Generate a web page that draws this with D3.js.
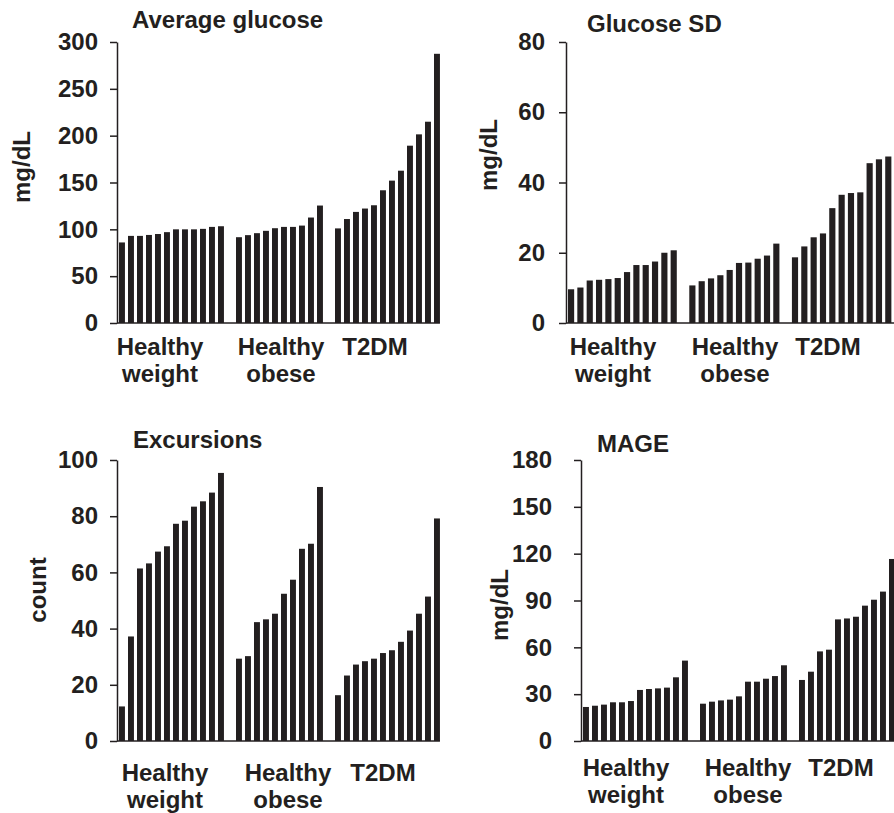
<!DOCTYPE html>
<html>
<head>
<meta charset="utf-8">
<script src="https://cdn.jsdelivr.net/npm/d3@7"></script>
<style>
  body { margin: 0; background: #fff; }
  text { font-family: "Liberation Sans", Arial, sans-serif; font-weight: bold; fill: #231f20; }
</style>
</head>
<body>
<div id="chart"></div>
<script>
const width = 894, height = 813;
const ink = "#231f20";

// group names (two lines each)
const groupLines = [["Healthy", "weight"], ["Healthy", "obese"], ["T2DM"]];

// values per group: healthy weight, healthy obese, T2DM
const avgGlucose = [
    [86, 93, 93, 94, 95, 97, 100, 100, 100, 100.5, 102.6, 103.3],
    [91.6, 93.8, 95.9, 98.4, 101.2, 102.6, 102.6, 104, 112.6, 125.4],
    [101, 111, 118.6, 122.2, 125.7, 141.7, 152, 162.6, 189.3, 201.4, 214.9, 287.4]
];
const glucoseSD = [
    [9.6, 10.1, 12.1, 12.3, 12.5, 12.8, 14.5, 16.5, 16.5, 17.5, 20, 20.7],
    [10.7, 11.9, 12.7, 13.6, 15.1, 17.1, 17.2, 18.3, 19.2, 22.6],
    [18.7, 21.8, 24.4, 25.5, 32.7, 36.5, 37, 37.2, 45.5, 46.6, 47.4]
];
const excursions = [
    [12.3, 37.2, 61.4, 63.2, 67.4, 69.3, 77.3, 78.4, 83.4, 85.3, 88.4, 95.4],
    [29.3, 30.2, 42.3, 43.3, 45.3, 52.4, 57.4, 68.4, 70.2, 90.4],
    [16.3, 23.3, 27.2, 28.4, 29.3, 31.3, 32.3, 35.3, 39.3, 45.3, 51.4, 79.2]
];
const mage = [
    [21.8, 22.6, 23.3, 24.8, 24.8, 25.6, 32.7, 33.3, 33.7, 34.2, 40.8, 51.5],
    [23.9, 25.2, 26, 26.5, 28.6, 38, 38, 39.9, 41.6, 48.5],
    [39.1, 44.4, 57.4, 58.5, 77.9, 78.5, 79.6, 86.7, 90.5, 95.7, 116.6]
];

const glucoseTicks = [0, 50, 100, 150, 200, 250, 300];
const sdTicks = [0, 20, 40, 60, 80];
const excursionTicks = [0, 20, 40, 60, 80, 100];
const mageTicks = [0, 30, 60, 90, 120, 150, 180];

// first slot of each group (one empty slot between groups)
const groupStart = [0, 13, 24];
const slots = 36;

const panels = [
    {title: "Average glucose", yLabel: "mg/dL", data: avgGlucose, ticks: glucoseTicks,
     ax: 117, top: 42, bottom: 323, pitch: 9, pad: 12, titleX: 132, titleY: 28,
     yLabX: 22, yLabY: 167, labelX: [160, 281, 375], labelY: [355, 382], clipRight: false},
    {title: "Glucose SD", yLabel: "mg/dL", data: glucoseSD, ticks: sdTicks,
     ax: 566, top: 42, bottom: 323, pitch: 9.33, pad: 14, titleX: 587, titleY: 32,
     yLabX: 489, yLabY: 155, labelX: [613, 735, 828], labelY: [355, 382], clipRight: true},
    {title: "Excursions", yLabel: "count", data: excursions, ticks: excursionTicks,
     ax: 117, top: 460, bottom: 741, pitch: 9, pad: 12, titleX: 133, titleY: 448,
     yLabX: 38, yLabY: 590, labelX: [165, 288, 383], labelY: [781, 808], clipRight: false},
    {title: "MAGE", yLabel: "mg/dL", data: mage, ticks: mageTicks,
     ax: 581, top: 460, bottom: 741, pitch: 9, pad: 22, titleX: 597, titleY: 452,
     yLabX: 500, yLabY: 605, labelX: [626, 748, 841], labelY: [776, 803], clipRight: true}
];

const svg = d3.select("#chart").append("svg")
    .attr("width", width)
    .attr("height", height)
    .style("display", "block");

panels.forEach(p => {
    const y = d3.scaleLinear()
        .domain([0, d3.max(p.ticks)])
        .range([p.bottom, p.top]);

    const x = d3.scaleLinear()
        .domain([0, slots])
        .range([p.ax + 2, p.ax + 2 + slots * p.pitch]);
    const barW = p.pitch * 0.66;

    const g = svg.append("g");

    // bars
    p.data.forEach((vals, gi) => {
        g.append("g").selectAll("rect")
            .data(vals)
            .enter().append("rect")
            .attr("x", (d, i) => x(groupStart[gi] + i))
            .attr("y", d => y(d))
            .attr("width", barW)
            .attr("height", d => y(0) - y(d))
            .attr("fill", ink);
    });

    // baseline
    const lastGroup = p.data.length - 1;
    const xEnd = p.clipRight ? width : x(groupStart[lastGroup] + p.data[lastGroup].length - 1) + barW;
    g.append("line")
        .attr("x1", p.ax).attr("x2", xEnd)
        .attr("y1", y(0)).attr("y2", y(0))
        .attr("stroke", ink)
        .attr("stroke-width", 1.5);

    // y axis
    const axis = g.append("g")
        .attr("transform", `translate(${p.ax},0)`)
        .call(d3.axisLeft(y).tickValues(p.ticks).tickSize(7).tickPadding(p.pad).tickSizeOuter(0));
    axis.select(".domain").attr("stroke", ink).attr("stroke-width", 1.5);
    axis.selectAll(".tick line").attr("stroke", ink).attr("stroke-width", 1.5);
    axis.selectAll(".tick text")
        .attr("fill", ink)
        .style("font-size", "24px")
        .style("font-family", "'Liberation Sans', Arial, sans-serif")
        .style("font-weight", "bold");

    // title
    g.append("text")
        .attr("x", p.titleX)
        .attr("y", p.titleY)
        .style("font-size", "24px")
        .text(p.title);

    // y label
    g.append("text")
        .attr("transform", `translate(${p.yLabX},${p.yLabY}) rotate(-90)`)
        .attr("text-anchor", "middle")
        .attr("dy", "0.35em")
        .style("font-size", "24px")
        .text(p.yLabel);

    // group labels
    groupLines.forEach((lines, gi) => {
        lines.forEach((line, li) => {
            g.append("text")
                .attr("x", p.labelX[gi])
                .attr("y", p.labelY[li])
                .attr("text-anchor", "middle")
                .style("font-size", "24px")
                .text(line);
        });
    });
});
</script>
</body>
</html>
